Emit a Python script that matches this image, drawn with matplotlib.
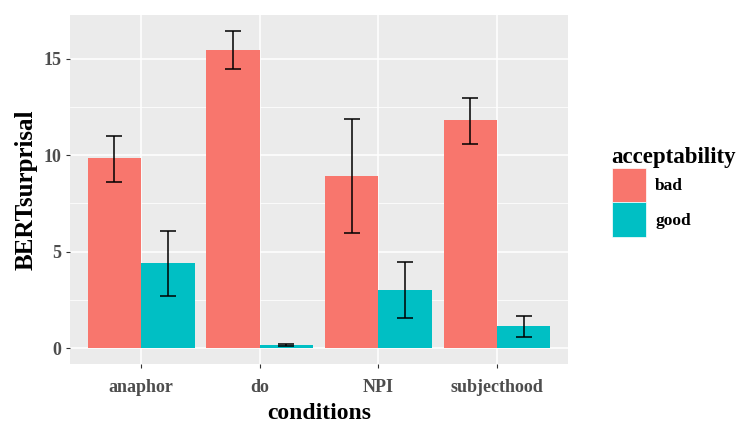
import numpy as np
import matplotlib
matplotlib.use("Agg")
import matplotlib.pyplot as plt
from matplotlib.patches import Patch
from matplotlib.ticker import MultipleLocator

plt.rcParams['font.family'] = ['Liberation Serif', 'DejaVu Serif']
plt.rcParams['font.weight'] = 'bold'

# dane
warunki = ["anaphor", "do", "NPI", "subjecthood"]
grupy = ["bad", "good"]
bad_srednia = [9.85, 15.43, 8.93, 11.83]
bad_dol = [8.62, 14.45, 5.95, 10.60]
bad_gora = [11.02, 16.45, 11.86, 12.98]
good_srednia = [4.43, 0.17, 3.03, 1.17]
good_dol = [2.72, 0.10, 1.55, 0.60]
good_gora = [6.09, 0.22, 4.45, 1.66]

kolory = ["#F8766D", "#00BFC4"]

fig = plt.figure(figsize=(7.36, 4.23), dpi=100)
ax = fig.add_axes([70/736, 1 - 364/423, 498/736, 349/423])
ax.set_facecolor("#EBEBEB")

x = np.arange(len(warunki))
szer = 0.45
srednie = [bad_srednia, good_srednia]
dolne = [bad_dol, good_dol]
gorne = [bad_gora, good_gora]

for k in range(2):
    pos = x + (k - 0.5) * szer
    ax.bar(pos, srednie[k], width=szer, color=kolory[k], zorder=2)
    sr = np.array(srednie[k])
    yerr = [sr - np.array(dolne[k]), np.array(gorne[k]) - sr]
    ax.errorbar(pos, sr, yerr=yerr, fmt="none", ecolor="black",
                elinewidth=1.1, capsize=6, capthick=1.1, zorder=3)

ax.set_xlim(-0.6, 3.6)
ax.set_ylim(-0.82, 17.27)
ax.yaxis.set_major_locator(MultipleLocator(5))
ax.yaxis.set_minor_locator(MultipleLocator(2.5))
ax.set_xticks(x)
ax.set_xticklabels(warunki)

ax.grid(which="major", color="white", linewidth=1.1, zorder=0)
ax.grid(which="minor", axis="y", color="white", linewidth=0.55, zorder=0)
ax.set_axisbelow(True)
for s in ax.spines.values():
    s.set_visible(False)

ax.tick_params(which="major", length=3, width=0.8, color="#333333",
               labelsize=13, labelcolor="#4D4D4D", pad=3)
ax.tick_params(axis="x", which="major", pad=8)
ax.tick_params(which="minor", length=0)

ax.set_xlabel("conditions", fontsize=17, fontweight="bold", labelpad=5)
ax.set_ylabel("BERTsurprisal", fontsize=18, fontweight="bold", labelpad=4)

uchwyty = [Patch(facecolor=kolory[i], edgecolor="white", linewidth=0.5) for i in range(2)]
leg = fig.legend(uchwyty, grupy, loc="upper left",
                 bbox_to_anchor=(603/736, 1 - 138/423), frameon=False,
                 fontsize=12.5, title="acceptability",
                 title_fontproperties={"size": 16.5, "weight": "bold"},
                 handlelength=2, handleheight=2.7, labelspacing=0,
                 handletextpad=0.5, borderpad=0, alignment="left")

fig.savefig("out.png", dpi=100)
